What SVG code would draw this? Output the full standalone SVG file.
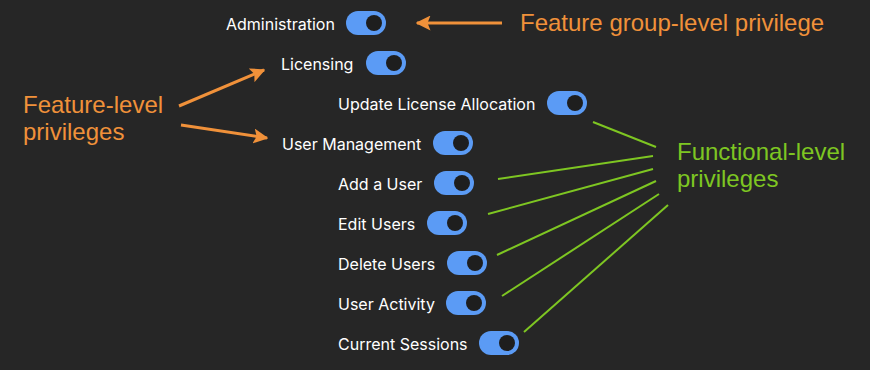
<svg xmlns="http://www.w3.org/2000/svg" width="870" height="370" viewBox="0 0 870 370">
<defs>
<style>
.lbl{font-family:Inter,"Noto Sans",sans-serif;font-size:16px;fill:#ffffff}
.tg{fill:#5b9bf5}
.kn{fill:#1e1e1e}
.or{font-family:"Liberation Sans",Arial,sans-serif;font-size:24px;fill:#f0913a}
.gr{font-family:"Liberation Sans",Arial,sans-serif;font-size:24px;fill:#7ec622}
.oa{stroke:#f0913a;stroke-width:3;fill:none;marker-end:url(#ah)}
.gl{stroke:#7ec622;stroke-width:2;fill:none}
</style>
<marker id="ah" viewBox="0 0 10 10" refX="9" refY="5" markerWidth="5" markerHeight="5" orient="auto" markerUnits="strokeWidth">
<path d="M0,0 L10,5 L0,10 L2,5 Z" fill="#f0913a"/>
</marker>
</defs>
<rect width="870" height="370" fill="#262626"/>
<g id="administration"><text class="lbl" x="226" y="30">Administration</text><rect class="tg" x="346" y="11" width="40" height="24" rx="12"/><circle class="kn" cx="374" cy="23" r="8"/></g>
<g id="licensing"><text class="lbl" x="281" y="70">Licensing</text><rect class="tg" x="366" y="51" width="40" height="24" rx="12"/><circle class="kn" cx="394" cy="63" r="8"/></g>
<g id="update-license"><text class="lbl" x="338" y="110">Update License Allocation</text><rect class="tg" x="547" y="91" width="40" height="24" rx="12"/><circle class="kn" cx="575" cy="103" r="8"/></g>
<g id="user-management"><text class="lbl" x="282" y="150">User Management</text><rect class="tg" x="433" y="131" width="40" height="24" rx="12"/><circle class="kn" cx="461" cy="143" r="8"/></g>
<g id="add-user"><text class="lbl" x="338" y="190">Add a User</text><rect class="tg" x="434" y="171" width="40" height="24" rx="12"/><circle class="kn" cx="462" cy="183" r="8"/></g>
<g id="edit-users"><text class="lbl" x="338" y="230">Edit Users</text><rect class="tg" x="427" y="211" width="40" height="24" rx="12"/><circle class="kn" cx="455" cy="223" r="8"/></g>
<g id="delete-users"><text class="lbl" x="338" y="270">Delete Users</text><rect class="tg" x="447" y="251" width="40" height="24" rx="12"/><circle class="kn" cx="475" cy="263" r="8"/></g>
<g id="user-activity"><text class="lbl" x="338" y="310">User Activity</text><rect class="tg" x="446" y="291" width="40" height="24" rx="12"/><circle class="kn" cx="474" cy="303" r="8"/></g>
<g id="current-sessions"><text class="lbl" x="338" y="350">Current Sessions</text><rect class="tg" x="479" y="331" width="40" height="24" rx="12"/><circle class="kn" cx="507" cy="343" r="8"/></g>
<g id="feature-group-label"><text class="or" x="520" y="31">Feature group-level privilege</text></g>
<g id="feature-label"><text class="or" x="23" y="113">Feature-level</text><text class="or" x="23" y="140">privileges</text></g>
<g id="functional-label"><text class="gr" x="677" y="160">Functional-level</text><text class="gr" x="677" y="187">privileges</text></g>
<g id="connectors">
<line class="oa" x1="502" y1="23" x2="417" y2="23"/>
<line class="oa" x1="179" y1="106" x2="264" y2="70"/>
<line class="oa" x1="181" y1="125" x2="267" y2="138"/>
<line class="gl" x1="593" y1="122" x2="656" y2="147"/>
<line class="gl" x1="498" y1="179" x2="653" y2="156"/>
<line class="gl" x1="488" y1="214" x2="653" y2="169"/>
<line class="gl" x1="497" y1="255" x2="656" y2="181"/>
<line class="gl" x1="502" y1="296" x2="659" y2="194"/>
<line class="gl" x1="524" y1="332" x2="668" y2="205"/>
</g>
</svg>
